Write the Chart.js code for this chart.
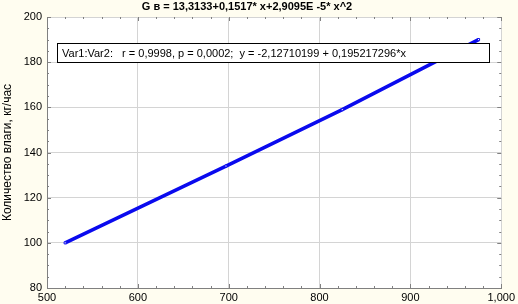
<!DOCTYPE html>
<html>
<head>
<meta charset="utf-8">
<script src="https://cdn.jsdelivr.net/npm/chart.js@4/dist/chart.umd.min.js"></script>
<style>
  html, body { margin: 0; padding: 0; background: #fffdf0; }
  #wrap { width: 518px; height: 304px; }
</style>
</head>
<body>
<div id="wrap"><canvas id="chart" width="518" height="304"></canvas></div>
<script>
  /* data */
  const xValues = [520, 697, 825, 975];
  const yValues = [100, 134, 159, 190];
  const xTicks = [500, 600, 700, 800, 900, 1000];
  const yTicks = [80, 100, 120, 140, 160, 180, 200];

  const titleText = "G в = 13,3133+0,1517* x+2,9095E -5* x^2";
  const yLabel = "Количество влаги, кг/час";
  const boxText = "Var1:Var2:   r = 0,9998, p = 0,0002;  y = -2,12710199 + 0,195217296*x";

  const points = xValues.map((x, i) => ({ x: x, y: yValues[i] }));

  /* background, minor ticks, title and regression box */
  const decor = {
    id: "decor",
    beforeDraw(chart) {
      const ctx = chart.ctx;
      const a = chart.chartArea;
      ctx.save();
      ctx.fillStyle = "#fffdf0";
      ctx.fillRect(0, 0, chart.width, chart.height);
      ctx.fillStyle = "#ffffff";
      ctx.fillRect(a.left, a.top, a.right - a.left, a.bottom - a.top);
      ctx.restore();
    },
    afterDatasetsDraw(chart) {
      const ctx = chart.ctx;
      const a = chart.chartArea;
      const xs = chart.scales.x;
      const ys = chart.scales.y;
      ctx.save();
      ctx.strokeStyle = "#808080";
      ctx.lineWidth = 1;
      ctx.beginPath();
      for (let v = 500; v <= 1000; v += 20) {
        const px = Math.round(xs.getPixelForValue(v)) + 0.5;
        const len = v % 100 === 0 ? 4 : 2;
        ctx.moveTo(px, a.bottom); ctx.lineTo(px, a.bottom - len);
        ctx.moveTo(px, a.top); ctx.lineTo(px, a.top + len);
      }
      for (let v = 80; v <= 200; v += 5) {
        const py = Math.round(ys.getPixelForValue(v)) + 0.5;
        const len = v % 20 === 0 ? 4 : 2;
        ctx.moveTo(a.left, py); ctx.lineTo(a.left + len, py);
        ctx.moveTo(a.right, py); ctx.lineTo(a.right - len, py);
      }
      ctx.stroke();

      // title
      ctx.fillStyle = "#000";
      ctx.font = "bold 11px 'Liberation Sans', Arial, sans-serif";
      ctx.textAlign = "center";
      ctx.textBaseline = "middle";
      ctx.fillText(titleText, 247, 7);

      // regression box
      ctx.fillStyle = "#ffffff";
      ctx.fillRect(57.5, 43.5, 432, 19);
      ctx.strokeStyle = "#000";
      ctx.strokeRect(57.5, 43.5, 432, 19);
      ctx.fillStyle = "#000";
      ctx.font = "11px 'Liberation Sans', Arial, sans-serif";
      ctx.textAlign = "left";
      ctx.fillText(boxText, 62, 53.5);
      ctx.restore();
    }
  };

  new Chart(document.getElementById("chart"), {
    type: "scatter",
    data: {
      datasets: [
        {
          data: points,
          showLine: true,
          borderColor: "#0a0aee",
          backgroundColor: "#ffffff",
          borderWidth: 3.5,
          pointStyle: "rect",
          pointRadius: 1.5,
          pointBorderWidth: 1,
          tension: 0,
        },
      ],
    },
    options: {
      responsive: false,
      animation: false,
      layout: { padding: { top: 17, right: 14, left: 0, bottom: 0 } },
      plugins: {
        legend: { display: false },
        tooltip: { enabled: false },
        title: { display: false },
      },
      scales: {
        x: {
          type: "linear",
          min: 500,
          max: 1000,
          afterBuildTicks(scale) {
            scale.ticks = xTicks.map((v) => ({ value: v }));
          },
          afterFit(scale) { scale.height = 16; },
          grid: { color: "#d4d4d4", drawTicks: false },
          border: { color: "#808080" },
          ticks: {
            color: "#000",
            padding: 3,
            font: { family: "'Liberation Sans', Arial, sans-serif", size: 11 },
            maxRotation: 0,
          },
        },
        y: {
          type: "linear",
          min: 80,
          max: 200,
          afterBuildTicks(scale) {
            scale.ticks = yTicks.map((v) => ({ value: v }));
          },
          afterFit(scale) { scale.width = 47; },
          grid: { color: "#d4d4d4", drawTicks: false },
          border: { color: "#808080" },
          title: {
            display: true,
            text: yLabel,
            color: "#000",
            padding: { top: 0, bottom: 0 },
            font: { family: "'Liberation Sans', Arial, sans-serif", size: 12 },
          },
          ticks: {
            color: "#000",
            padding: 5,
            font: { family: "'Liberation Sans', Arial, sans-serif", size: 11 },
          },
        },
      },
    },
    plugins: [decor],
  });
</script>
</body>
</html>
